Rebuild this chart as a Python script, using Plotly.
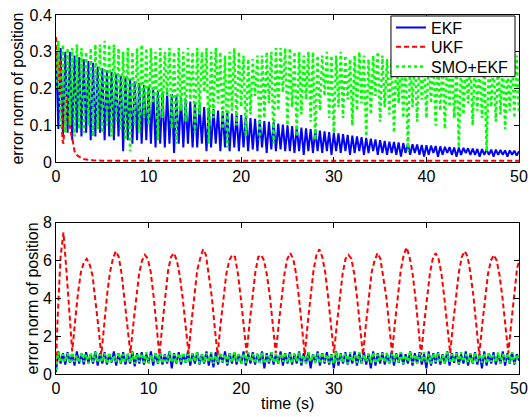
import numpy as np
import plotly.graph_objects as go

# ---------------- data ----------------
# top subplot sample times (0.25 s grid)
t_top = np.linspace(0, 50, 201)

ekf_top = [
    0.30,0.09,0.31,0.07,0.30,0.08,0.30,0.06,0.29,0.08,0.285,0.07,0.28,0.08,0.275,0.06,0.27,0.07,0.26,0.08,
    0.255,0.06,0.25,0.07,0.245,0.06,0.24,0.07,0.235,0.03,0.23,0.06,0.225,0.05,0.22,0.06,0.215,0.05,0.21,0.06,
    0.205,0.05,0.20,0.04,0.195,0.05,0.19,0.04,0.19,0.05,0.185,0.025,0.18,0.05,0.175,0.04,0.17,0.05,0.165,0.04,
    0.16,0.04,0.155,0.05,0.15,0.03,0.148,0.04,0.145,0.05,0.14,0.03,0.138,0.04,0.135,0.03,0.132,0.04,0.13,0.03,
    0.128,0.04,0.125,0.03,0.12,0.035,0.118,0.03,0.115,0.04,0.112,0.025,0.11,0.035,0.108,0.03,0.105,0.035,0.102,0.03,
    0.10,0.03,0.098,0.025,0.096,0.03,0.094,0.02,0.092,0.03,0.09,0.025,0.088,0.03,0.086,0.025,0.084,0.03,0.082,0.02,
    0.08,0.03,0.078,0.025,0.076,0.03,0.074,0.02,0.072,0.025,0.07,0.03,0.068,0.02,0.066,0.025,0.064,0.03,0.062,0.02,
    0.06,0.025,0.058,0.02,0.056,0.025,0.055,0.02,0.054,0.015,0.052,0.025,0.05,0.02,0.049,0.025,0.048,0.02,0.047,0.015,
    0.046,0.02,0.045,0.025,0.044,0.015,0.043,0.02,0.042,0.025,0.041,0.02,0.04,0.015,0.04,0.02,0.039,0.025,0.038,0.02,
    0.037,0.02,0.036,0.015,0.036,0.02,0.035,0.02,0.034,0.015,0.034,0.02,0.033,0.02,0.032,0.015,0.032,0.02,0.031,0.018,
    0.03,
]

smo_top = [
    0.20,0.33,0.09,0.32,0.08,0.31,0.10,0.31,0.07,0.32,0.09,0.31,0.08,0.30,0.10,0.31,0.07,0.32,0.09,0.32,
    0.08,0.33,0.10,0.32,0.07,0.32,0.11,0.31,0.09,0.30,0.06,0.31,0.03,0.30,0.10,0.31,0.08,0.32,0.12,0.31,
    0.10,0.31,0.16,0.30,0.06,0.31,0.12,0.30,0.18,0.31,0.09,0.30,0.05,0.31,0.14,0.30,0.11,0.31,0.17,0.30,
    0.08,0.31,0.13,0.30,0.19,0.31,0.05,0.30,0.12,0.31,0.16,0.30,0.09,0.29,0.04,0.30,0.14,0.31,0.10,0.30,
    0.15,0.29,0.07,0.28,0.13,0.28,0.18,0.29,0.06,0.29,0.12,0.30,0.16,0.30,0.05,0.31,0.14,0.31,0.19,0.31,
    0.10,0.31,0.15,0.30,0.07,0.30,0.13,0.29,0.17,0.30,0.11,0.30,0.06,0.29,0.14,0.29,0.18,0.30,0.12,0.29,
    0.08,0.29,0.15,0.30,0.12,0.29,0.17,0.28,0.10,0.29,0.14,0.30,0.16,0.29,0.07,0.28,0.13,0.29,0.18,0.30,
    0.11,0.29,0.15,0.28,0.13,0.28,0.08,0.29,0.16,0.28,0.12,0.29,0.03,0.28,0.15,0.29,0.11,0.28,0.17,0.27,
    0.12,0.28,0.16,0.28,0.10,0.27,0.14,0.28,0.09,0.29,0.15,0.28,0.12,0.27,0.04,0.28,0.13,0.27,0.16,0.28,
    0.10,0.28,0.14,0.27,0.12,0.28,0.03,0.27,0.15,0.28,0.11,0.27,0.13,0.28,0.09,0.27,0.14,0.28,0.12,0.29,
    0.13,
]

ukf_top_t = [0, 0.1, 0.2, 0.3, 0.4, 0.5, 0.6, 0.7, 0.8, 0.9, 1.0, 1.1, 1.2, 1.3, 1.4, 1.5, 1.6, 1.8,
             2.0, 2.2, 2.5, 2.8, 3.1, 3.5, 4, 5, 10, 20, 30, 40, 50]
ukf_top = [0.34, 0.25, 0.30, 0.22, 0.28, 0.18, 0.12, 0.06, 0.05, 0.09, 0.16, 0.18, 0.14, 0.12, 0.11,
           0.10, 0.08, 0.06, 0.03, 0.02, 0.015, 0.01, 0.008, 0.006, 0.005, 0.004, 0.004, 0.004,
           0.004, 0.004, 0.004]

# bottom subplot
t_bot = np.linspace(0, 50, 201)

ekf_bot = [
    0.1,1.2,0.55,1.1,0.5,1.15,0.6,1.05,0.45,1.2,0.55,1.1,0.5,1.15,0.6,1.05,0.55,1.2,0.45,1.1,
    0.55,1.15,0.5,1.05,0.6,1.2,0.45,1.1,0.55,1.15,0.5,1.05,0.55,1.2,0.4,1.1,0.55,1.15,0.5,1.05,
    0.6,1.2,0.45,1.1,0.55,1.15,0.5,1.05,0.55,1.2,0.3,1.1,0.55,1.15,0.5,1.05,0.6,1.2,0.45,1.1,
    0.55,1.15,0.5,1.05,0.55,1.2,0.45,1.1,0.35,1.15,0.5,1.05,0.6,1.2,0.45,1.1,0.55,1.15,0.5,1.05,
    0.55,1.2,0.45,1.1,0.55,1.15,0.5,1.05,0.6,1.2,0.3,1.1,0.55,1.15,0.5,1.05,0.55,1.2,0.45,1.1,
    0.55,1.15,0.5,1.05,0.55,1.2,0.45,1.1,0.55,1.15,0.3,1.05,0.6,1.2,0.45,1.1,0.55,1.15,0.5,1.05,
    0.3,1.2,0.45,1.1,0.55,1.15,0.5,1.05,0.55,1.2,0.45,1.1,0.55,1.15,0.5,1.05,0.3,1.2,0.45,1.1,
    0.55,1.15,0.5,1.05,0.55,1.2,0.45,1.1,0.6,1.15,0.5,1.05,0.55,1.2,0.45,1.1,0.55,1.15,0.5,1.05,
    0.3,1.2,0.45,1.1,0.55,1.15,0.5,1.05,0.55,1.2,0.45,1.1,0.6,1.15,0.5,1.05,0.55,1.2,0.45,1.1,
    0.55,1.15,0.5,1.05,0.3,1.2,0.45,1.1,0.55,1.15,0.5,1.05,0.55,1.2,0.45,1.1,0.55,1.15,0.5,1.05,
    0.7,
]

smo_bot = [
    0.2,1.15,0.6,1.05,0.65,1.1,0.55,1.15,0.65,1.0,0.6,1.15,0.65,1.05,0.55,1.1,0.65,1.15,0.6,1.05,
    0.65,1.1,0.55,1.15,0.6,1.0,0.65,1.15,0.55,1.05,0.65,1.1,0.6,1.15,0.55,1.05,0.65,1.1,0.6,1.15,
    0.55,1.05,0.65,1.15,0.6,1.1,0.55,1.0,0.65,1.15,0.6,1.05,0.55,1.1,0.65,1.15,0.55,1.05,0.6,1.1,
    0.65,1.15,0.55,1.05,0.6,1.1,0.65,1.15,0.55,1.0,0.6,1.15,0.65,1.05,0.55,1.1,0.6,1.15,0.65,1.05,
    0.55,1.1,0.6,1.15,0.65,1.05,0.55,1.1,0.6,1.15,0.55,1.0,0.65,1.15,0.6,1.05,0.55,1.1,0.65,1.15,
    0.6,1.05,0.55,1.1,0.65,1.15,0.6,1.0,0.55,1.15,0.65,1.05,0.6,1.1,0.55,1.15,0.65,1.05,0.6,1.1,
    0.55,1.15,0.65,1.05,0.6,1.1,0.55,1.15,0.65,1.0,0.6,1.15,0.55,1.05,0.65,1.1,0.6,1.15,0.55,1.05,
    0.65,1.1,0.6,1.15,0.55,1.05,0.65,1.1,0.6,1.15,0.55,1.0,0.65,1.15,0.6,1.05,0.55,1.1,0.65,1.15,
    0.6,1.05,0.55,1.1,0.65,1.15,0.6,1.0,0.55,1.15,0.65,1.05,0.6,1.1,0.55,1.15,0.65,1.05,0.6,1.1,
    0.55,1.15,0.65,1.05,0.6,1.1,0.55,1.15,0.65,1.0,0.6,1.15,0.55,1.05,0.65,1.1,0.6,1.15,0.55,1.05,
    0.8,
]

# UKF bottom: t=0 then samples every 0.314 s starting at 0.18 s
t_ukf_bot = np.concatenate([[0.0], 0.18 + 0.314 * np.arange(160)])
ukf_bot = [
    0.5,
    3.0, 6.2, 7.5, 5.5, 3.3,
    1.2, 2.8, 4.3, 5.4, 5.9, 6.1, 5.8, 5.2, 4.0, 2.5,
    1.0, 2.7, 4.2, 5.4, 6.1, 6.5, 6.2, 5.3, 4.0, 2.4,
    1.1, 2.6, 4.1, 5.3, 6.0, 6.3, 6.1, 5.4, 4.1, 2.5,
    1.0, 2.6, 4.2, 5.5, 6.2, 6.4, 6.0, 5.2, 4.0, 2.6,
    1.1, 2.7, 4.3, 5.5, 6.1, 6.6, 6.3, 5.3, 4.1, 2.5,
    1.0, 2.6, 4.1, 5.3, 6.0, 6.3, 6.2, 5.3, 4.0, 2.6,
    1.1, 2.7, 4.2, 5.4, 6.2, 6.3, 6.0, 5.2, 4.1, 2.5,
    1.1, 2.6, 4.1, 5.3, 6.1, 6.4, 6.1, 5.3, 4.0, 2.5,
    1.0, 2.7, 4.2, 5.5, 6.3, 6.6, 6.2, 5.4, 4.1, 2.6,
    1.1, 2.6, 4.1, 5.3, 6.1, 6.3, 6.1, 5.3, 4.0, 2.5,
    1.0, 2.6, 4.2, 5.4, 6.0, 6.4, 6.1, 5.2, 4.1, 2.6,
    1.1, 2.7, 4.3, 5.5, 6.3, 6.7, 6.2, 5.4, 4.1, 2.5,
    1.0, 2.6, 4.1, 5.3, 6.1, 6.4, 6.1, 5.3, 4.0, 2.6,
    1.1, 2.7, 4.2, 5.4, 6.2, 6.5, 6.2, 5.3, 4.1, 2.5,
    1.0, 2.6, 4.1, 5.3, 6.0, 6.3, 6.0, 5.2, 4.0, 2.6,
    1.1, 2.7, 4.2, 5.6, 6.1,
]

names = ["EKF", "UKF", "SMO+EKF"]
colors = ["#0000ff", "#ff0000", "#00ff00"]
dashes = ["solid", "5px,3px", "dot"]
widths = [2, 2, 2.5]
legend_ids = ["legend", "legend2", "legend3"]
y_title = "error norm of position"
x_title = "time (s)"

FONT = "Liberation Sans, Arial, sans-serif"

fig = go.Figure()
top_x = [t_top, ukf_top_t, t_top]
top_y = [ekf_top, ukf_top, smo_top]
bot_x = [t_bot, t_ukf_bot, t_bot]
bot_y = [ekf_bot, ukf_bot, smo_bot]

for i in range(3):
    fig.add_trace(go.Scatter(x=top_x[i], y=top_y[i], mode="lines", name=names[i],
                             legend=legend_ids[i],
                             line=dict(color=colors[i], width=widths[i], dash=dashes[i]),
                             xaxis="x", yaxis="y"))
for i in range(3):
    fig.add_trace(go.Scatter(x=bot_x[i], y=bot_y[i], mode="lines", name=names[i],
                             showlegend=False,
                             line=dict(color=colors[i], width=widths[i], dash=dashes[i]),
                             xaxis="x2", yaxis="y2"))

axis_style = dict(showline=True, linecolor="black", linewidth=1, mirror="ticks",
                  ticks="inside", ticklen=5, tickcolor="black", showgrid=False,
                  zeroline=False, automargin=False,
                  tickfont=dict(family=FONT, size=16, color="black"))

# plot area: x 56..519 px, y 13..374 px
LEG_X = 0.7235
leg_common = dict(x=LEG_X, xanchor="left", yanchor="middle", bgcolor="rgba(0,0,0,0)",
                  borderwidth=0, font=dict(family=FONT, size=16, color="black"))

title_font = dict(family=FONT, size=16, color="black")

fig.update_layout(
    width=530, height=417,
    template="none",
    paper_bgcolor="white", plot_bgcolor="white",
    margin=dict(l=56, r=11, t=13, b=43),
    font=dict(family=FONT, size=16, color="black"),
    xaxis=dict(domain=[0, 1], anchor="y", range=[0, 50], dtick=10, **axis_style),
    yaxis=dict(domain=[0.59, 1.0], anchor="x", range=[0, 0.4], dtick=0.1, **axis_style),
    xaxis2=dict(domain=[0, 1], anchor="y2", range=[0, 50], dtick=10, **axis_style),
    yaxis2=dict(domain=[0, 0.421], anchor="x2", range=[0, 8], dtick=2, **axis_style),
    legend=dict(y=0.9648, **leg_common),
    legend2=dict(y=0.9114, **leg_common),
    legend3=dict(y=0.8560, **leg_common),
    shapes=[dict(type="rect", xref="paper", yref="paper",
                 x0=LEG_X, x1=0.9914, y0=0.8283, y1=0.9972,
                 line=dict(color="black", width=1), fillcolor="white", layer="above")],
    annotations=[
        dict(text=y_title, xref="paper", yref="paper", x=-0.0821, y=0.795,
             xanchor="center", yanchor="middle", textangle=-90, showarrow=False, font=title_font),
        dict(text=y_title, xref="paper", yref="paper", x=-0.0518, y=0.2105,
             xanchor="center", yanchor="middle", textangle=-90, showarrow=False, font=title_font),
        dict(text=x_title, xref="paper", yref="paper", x=0.5, y=-0.0831,
             xanchor="center", yanchor="middle", showarrow=False, font=title_font),
    ],
    showlegend=True,
)

fig.write_html("out.html")
